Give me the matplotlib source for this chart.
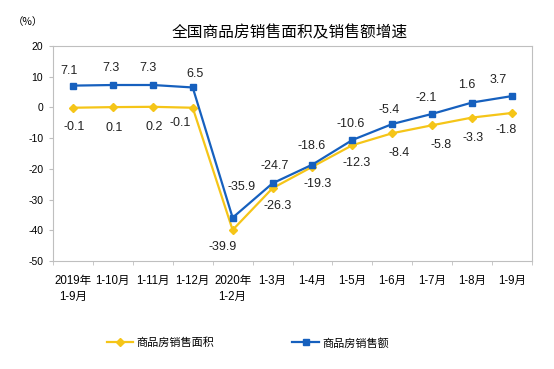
import matplotlib
matplotlib.use("Agg")
import matplotlib.pyplot as plt
from matplotlib.ticker import FixedLocator

plt.rcParams['font.family'] = ['Liberation Sans', 'Noto Sans CJK SC', 'DejaVu Sans']

categories = ["2019年\n1-9月", "1-10月", "1-11月", "1-12月", "2020年\n1-2月", "1-3月",
              "1-4月", "1-5月", "1-6月", "1-7月", "1-8月", "1-9月"]
area = [-0.1, 0.1, 0.2, -0.1, -39.9, -26.3, -19.3, -12.3, -8.4, -5.8, -3.3, -1.8]
sales = [7.1, 7.3, 7.3, 6.5, -35.9, -24.7, -18.6, -10.6, -5.4, -2.1, 1.6, 3.7]
yticks = [20, 10, 0, -10, -20, -30, -40, -50]

area_name = "商品房销售面积"
sales_name = "商品房销售额"
title = "全国商品房销售面积及销售额增速"

# label offsets (pixels)
sales_off = [(-4, 15), (-2, 17), (-5, 17), (2, 13), (9, 31), (2, 17), (-1, 19),
             (-2, 16), (-3, 14), (-6, 16), (-5, 18), (-14, 16)]
area_off = [(1, -19), (1, -21), (1, -20), (-13, -15), (-10, -17), (5, -18), (5, -17),
            (4, -18), (7, -20), (9, -20), (1, -20), (-6, -17)]

yellow = "#F5C518"
blue = "#1660BE"
grey = "#BFBFBF"

fig = plt.figure(figsize=(5.54, 3.69), dpi=100)
ax = fig.add_axes([53/554, 1-261/369, (532-53)/554, (261-46)/369])

x = list(range(len(categories)))
ax.plot(x, area, color=yellow, lw=1.6, marker='D', ms=4, label=area_name, zorder=3)
ax.plot(x, sales, color=blue, lw=1.6, marker='s', ms=4, label=sales_name, zorder=4)

for i, (v, o) in enumerate(zip(sales, sales_off)):
    ax.annotate(f"{v:.1f}", (i, v), xytext=o, textcoords='offset pixels',
                ha='center', va='center', fontsize=9, color='#222222')
for i, (v, o) in enumerate(zip(area, area_off)):
    ax.annotate(f"{v:.1f}", (i, v), xytext=o, textcoords='offset pixels',
                ha='center', va='center', fontsize=9, color='#222222')

ax.set_xlim(-0.5, len(categories) - 0.5)
ax.set_ylim(-50, 20)
ax.set_yticks(yticks)
ax.set_yticklabels([str(t) for t in yticks], fontsize=7.5)
ax.set_xticks(x)
ax.set_xticklabels(categories, fontsize=8.3, linespacing=1.4)
ax.xaxis.set_minor_locator(FixedLocator([i - 0.5 for i in range(len(categories) + 1)]))
ax.tick_params(axis='x', which='major', length=0, pad=10)
ax.tick_params(axis='x', which='minor', length=3, color=grey, direction='out')
ax.tick_params(axis='y', length=3, color=grey, pad=4)
for s in ax.spines.values():
    s.set_color(grey)
    s.set_linewidth(0.8)

fig.text(290/554, 1-33/369, title, ha='center', va='center', fontsize=11.3,
         family=['Noto Sans CJK SC', 'DejaVu Sans'])
fig.text(28/554, 1-22/369, "（%）", ha='center', va='center', fontsize=7.5,
         family=['Noto Sans CJK SC', 'DejaVu Sans'])

fig.legend(loc='center', bbox_to_anchor=(248/554, 1-343/369), ncol=2, frameon=False,
           handlelength=2.4, handletextpad=0.3, columnspacing=7,
           prop={'family': ['Noto Sans CJK SC', 'DejaVu Sans'], 'size': 8})

fig.savefig("out.png", dpi=100)
